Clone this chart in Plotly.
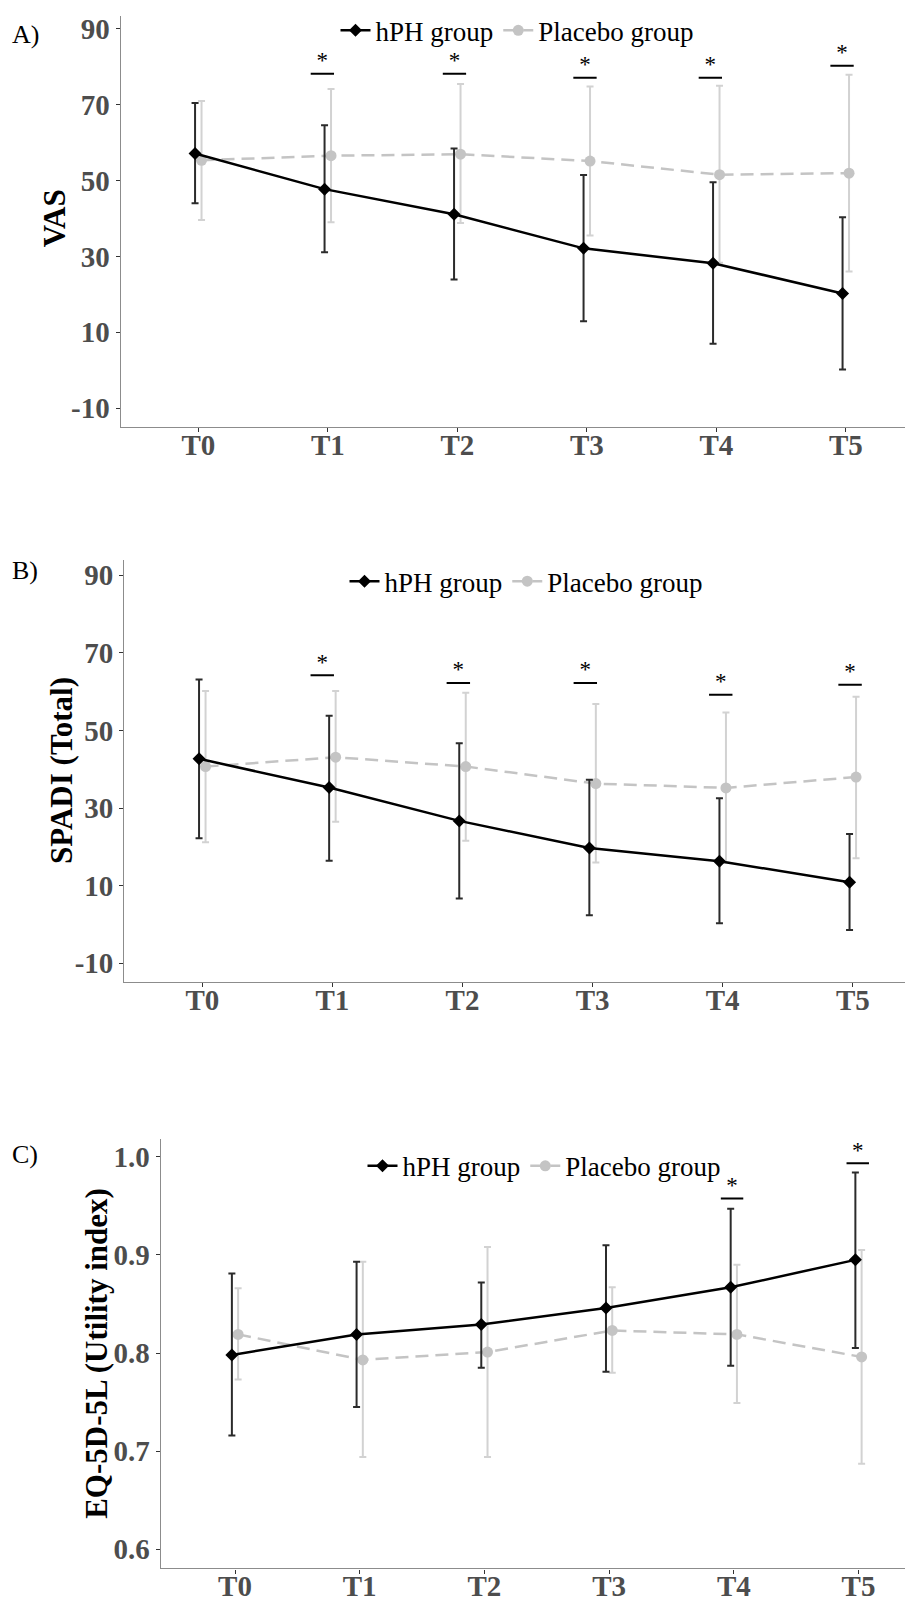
import plotly.graph_objects as go

# ---------------- data ----------------
categories = ["T0", "T1", "T2", "T3", "T4", "T5"]

vas_hph_mean = [57.1, 47.7, 41.1, 32.1, 28.2, 20.2]
vas_hph_upper = [70.4, 64.5, 58.4, 51.4, 49.5, 40.3]
vas_hph_lower = [44.0, 31.1, 23.9, 12.9, 7.0, 0.2]
vas_pla_mean = [55.3, 56.5, 56.9, 55.1, 51.5, 51.9]
vas_pla_upper = [70.9, 74.1, 75.4, 74.7, 74.9, 77.8]
vas_pla_lower = [39.6, 39.0, 38.8, 35.5, 28.3, 26.0]
vas_star_x = [0.958, 1.978, 2.986, 3.954, 4.971]
vas_star_y = [78.1, 78.1, 77.0, 77.0, 80.2]

spadi_hph_mean = [42.7, 35.3, 26.7, 19.7, 16.3, 10.9]
spadi_hph_upper = [63.1, 53.8, 46.7, 37.3, 32.5, 23.3]
spadi_hph_lower = [22.2, 16.4, 6.7, 2.4, 0.3, -1.4]
spadi_pla_mean = [40.7, 43.1, 40.7, 36.3, 35.2, 38.0]
spadi_pla_upper = [60.2, 60.2, 59.7, 56.8, 54.6, 58.7]
spadi_pla_lower = [21.2, 26.5, 21.6, 16.0, 16.0, 17.1]
spadi_star_x = [0.922, 1.968, 2.944, 3.985, 4.979]
spadi_star_y = [64.2, 62.2, 62.2, 59.2, 61.8]

eq_hph_mean = [0.798, 0.819, 0.829, 0.846, 0.867, 0.895]
eq_hph_upper = [0.881, 0.893, 0.872, 0.910, 0.947, 0.984]
eq_hph_lower = [0.716, 0.745, 0.785, 0.781, 0.787, 0.805]
eq_pla_mean = [0.819, 0.793, 0.801, 0.823, 0.819, 0.796]
eq_pla_upper = [0.866, 0.893, 0.908, 0.867, 0.890, 0.905]
eq_pla_lower = [0.773, 0.694, 0.694, 0.780, 0.749, 0.687]
eq_star_x = [3.986, 4.994]
eq_star_y = [0.9576, 0.9935]

y_titles = ["VAS", "SPADI (Total)", "EQ-5D-5L (Utility index)"]
panel_labels = ["A)", "B)", "C)"]
y_ticks = [[-10, 10, 30, 50, 70, 90], [-10, 10, 30, 50, 70, 90], [0.6, 0.7, 0.8, 0.9, 1.0]]

# ---------------- style ----------------
W, H = 905, 1602
SERIF = "Times New Roman, Liberation Serif, serif"
DODGE = 0.025
HPH_COLOR = "#000000"
HPH_ERR = "#2b2b2b"
PLA_COLOR = "#c4c4c4"
PLA_ERR = "#d2d2d2"

# panel geometry in pixels
panels = [
    dict(left=120.7, top=12.7, bottom=427.3, yrange=[-14.97, 93.4], t0=198.3, step=129.5,
         legend_y=28, legend_cx=517, title_x=54, title_y=217, label_y=32),
    dict(left=124.3, top=561.7, bottom=986.7, yrange=[-14.9, 93.8], t0=202.3, step=130.1,
         legend_y=583, legend_cx=526, title_x=61.7, title_y=773, label_y=572),
    dict(left=160.7, top=1145.0, bottom=1577.3, yrange=[0.5803, 1.0178], t0=235.0, step=124.7,
         legend_y=1172, legend_cx=544, title_x=97, title_y=1361, label_y=1160),
]

datasets = [
    (vas_hph_mean, vas_hph_upper, vas_hph_lower, vas_pla_mean, vas_pla_upper, vas_pla_lower, vas_star_x, vas_star_y),
    (spadi_hph_mean, spadi_hph_upper, spadi_hph_lower, spadi_pla_mean, spadi_pla_upper, spadi_pla_lower, spadi_star_x, spadi_star_y),
    (eq_hph_mean, eq_hph_upper, eq_hph_lower, eq_pla_mean, eq_pla_upper, eq_pla_lower, eq_star_x, eq_star_y),
]

fig = go.Figure()
idx = list(range(len(categories)))
annotations = []
layout = {}

for p, (geo, data) in enumerate(zip(panels, datasets)):
    hm, hu, hl, pm, pu, pl, sx, sy = data
    n = "" if p == 0 else str(p + 1)
    xa, ya = "x" + n, "y" + n
    leg = "legend" + n

    fig.add_trace(go.Scatter(
        x=[i + DODGE for i in idx], y=pm, mode="lines+markers", name="Placebo group",
        line=dict(color=PLA_COLOR, width=2.5, dash="13px,7px"),
        marker=dict(symbol="circle", size=11, color=PLA_COLOR),
        error_y=dict(type="data", symmetric=False,
                     array=[u - m for u, m in zip(pu, pm)],
                     arrayminus=[m - l for m, l in zip(pm, pl)],
                     color=PLA_ERR, thickness=2, width=3.5),
        xaxis=xa, yaxis=ya, legend=leg, legendrank=2))
    fig.add_trace(go.Scatter(
        x=[i - DODGE for i in idx], y=hm, mode="lines+markers", name="hPH group",
        line=dict(color=HPH_COLOR, width=2.5),
        marker=dict(symbol="diamond", size=10, color=HPH_COLOR),
        error_y=dict(type="data", symmetric=False,
                     array=[u - m for u, m in zip(hu, hm)],
                     arrayminus=[m - l for m, l in zip(hm, hl)],
                     color=HPH_ERR, thickness=2, width=3.5),
        xaxis=xa, yaxis=ya, legend=leg, legendrank=1))
    fig.add_trace(go.Scatter(
        x=sx, y=sy, mode="text", text=["*"] * len(sx), textposition="top center",
        textfont=dict(family=SERIF, size=23, color="black"),
        error_x=dict(type="constant", value=0.09, width=0, thickness=2, color="black"),
        showlegend=False, hoverinfo="skip", xaxis=xa, yaxis=ya))

    x0 = geo["left"] / W
    xmax = (W - geo["t0"]) / geo["step"]
    xmin = -(geo["t0"] - geo["left"]) / geo["step"]
    ydom = [1 - geo["bottom"] / H, 1 - geo["top"] / H]

    axis_common = dict(showline=True, linecolor="#8c8c8c", linewidth=1.3, ticks="outside",
                       ticklen=4, tickwidth=1.3, tickcolor="#333333", showgrid=False, zeroline=False,
                       tickfont=dict(family=SERIF, size=29, color="#4d4d4d", weight="bold"))
    layout["xaxis" + n] = dict(domain=[x0, 1.0], range=[xmin, xmax], anchor=ya,
                               tickvals=idx, ticktext=categories, ticklabelstandoff=-12,
                               **axis_common)
    layout["yaxis" + n] = dict(domain=ydom, range=geo["yrange"], anchor=xa,
                               tickvals=y_ticks[p],
                               ticktext=[("%.1f" % v) if p == 2 else str(v) for v in y_ticks[p]],
                               **axis_common)
    layout[leg] = dict(orientation="h", x=geo["legend_cx"] / W, xanchor="center",
                       y=1 - geo["legend_y"] / H, yanchor="middle",
                       font=dict(family=SERIF, size=27, color="black"),
                       bgcolor="rgba(0,0,0,0)", itemwidth=30, tracegroupgap=0)

    annotations.append(dict(text=y_titles[p], xref="paper", yref="paper",
                            x=geo["title_x"] / W, y=1 - geo["title_y"] / H, textangle=-90,
                            showarrow=False, xanchor="center", yanchor="middle",
                            font=dict(family=SERIF, size=31, color="black", weight="bold")))
    annotations.append(dict(text=panel_labels[p], xref="paper", yref="paper",
                            x=10 / W, y=1 - geo["label_y"] / H, showarrow=False,
                            xanchor="left", yanchor="middle",
                            font=dict(family=SERIF, size=26, color="black")))

fig.update_layout(
    width=W, height=H, margin=dict(l=0, r=0, t=0, b=0),
    plot_bgcolor="white", paper_bgcolor="white",
    annotations=annotations, **layout)

# remove the browser's default 8px page margin so the figure sits at the window origin
fig.write_html("out.html",
               config={"displayModeBar": False},
               post_script="document.body.style.margin='0px';document.body.style.overflow='hidden';")
